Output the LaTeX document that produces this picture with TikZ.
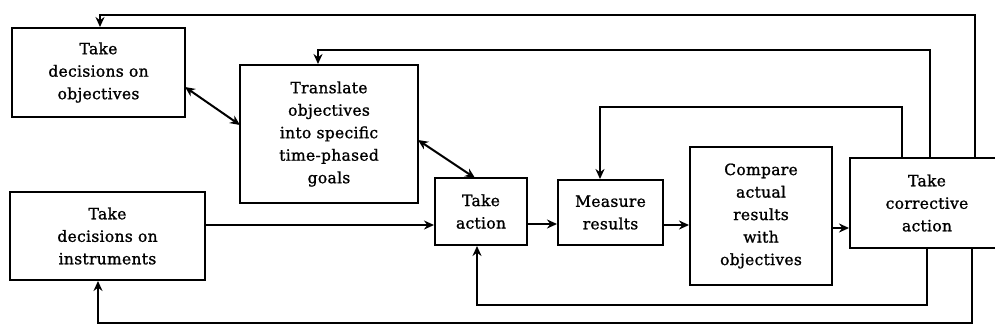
\documentclass[tikz,border=0pt]{standalone}
\usepackage{fontspec}
\setmainfont[LetterSpace=2, FakeBold=1.2]{DejaVu Serif}
\usetikzlibrary{arrows.meta}
\begin{document}
\begin{tikzpicture}[x=1pt,y=-1pt,
  box/.style={draw, line width=2pt, align=center, inner sep=0pt,
    font=\fontsize{15.5}{22.5}\selectfont},
  link/.style={line width=2pt, -{Stealth[length=10pt,width=9pt]}},
  both/.style={line width=2pt, {Stealth[length=10pt,width=9pt]}-{Stealth[length=10pt,width=9pt]}},
  plain/.style={line width=2pt}]
\useasboundingbox (0,0) rectangle (995,332);
\clip (0,0) rectangle (995,332);

% boxes
\node[box, minimum width=173, minimum height=89] (obj) at (98.5,72.5)
  {Take\\decisions on\\objectives};
\node[box, minimum width=178, minimum height=138] (goals) at (329,134)
  {Translate\\objectives\\into specific\\time-phased\\goals};
\node[box, minimum width=195, minimum height=88] (instr) at (107.5,236)
  {Take\\decisions on\\instruments};
\node[box, minimum width=92, minimum height=67] (act) at (481,211.5)
  {Take\\action};
\node[box, minimum width=105, minimum height=65] (meas) at (610.5,212.5)
  {Measure\\results};
\node[box, minimum width=142, minimum height=138] (comp) at (761,216)
  {Compare\\actual\\results\\with\\objectives};
\node[box, minimum width=154, minimum height=90] (corr) at (927,203)
  {Take\\corrective\\action};

% corner points of the feedback loops
\coordinate (ta) at (975,15);   \coordinate (tb) at (100,15);
\coordinate (ua) at (930,50);   \coordinate (ub) at (318,50);
\coordinate (va) at (902,107);  \coordinate (vb) at (600,107);
\coordinate (wa) at (927,305);  \coordinate (wb) at (477,305);
\coordinate (xa) at (972,323);  \coordinate (xb) at (98,323);
% ends of the two-way links
\coordinate (d1) at (185,87);   \coordinate (d2) at (240,125);
\coordinate (d3) at (418,140);  \coordinate (d4) at (475,178);

% feedback from corrective action
\draw[link] (corr.north -| ta) -- (ta) -- (tb) -- (tb |- obj.north);
\draw[link] (corr.north -| ua) -- (ua) -- (ub) -- (ub |- goals.north);
\draw[link] (corr.north -| va) -- (va) -- (vb) -- (vb |- meas.north);
\draw[link] (corr.south -| wa) -- (wa) -- (wb) -- (wb |- act.south);
\draw[link] (corr.south -| xa) -- (xa) -- (xb) -- (xb |- instr.south);

% two-way links
\draw[both] (d1) -- (d2);
\draw[both] (d3) -- (d4);

% main flow
\draw[link] (instr.east |- 0,225) -- (act.west |- 0,225);
\draw[link] (act.east |- 0,224) -- (meas.west |- 0,224);
\draw[link] (meas.east |- 0,225) -- (comp.west |- 0,225);
\draw[link] (comp.east |- 0,228) -- (corr.west |- 0,228);
\end{tikzpicture}
\end{document}
